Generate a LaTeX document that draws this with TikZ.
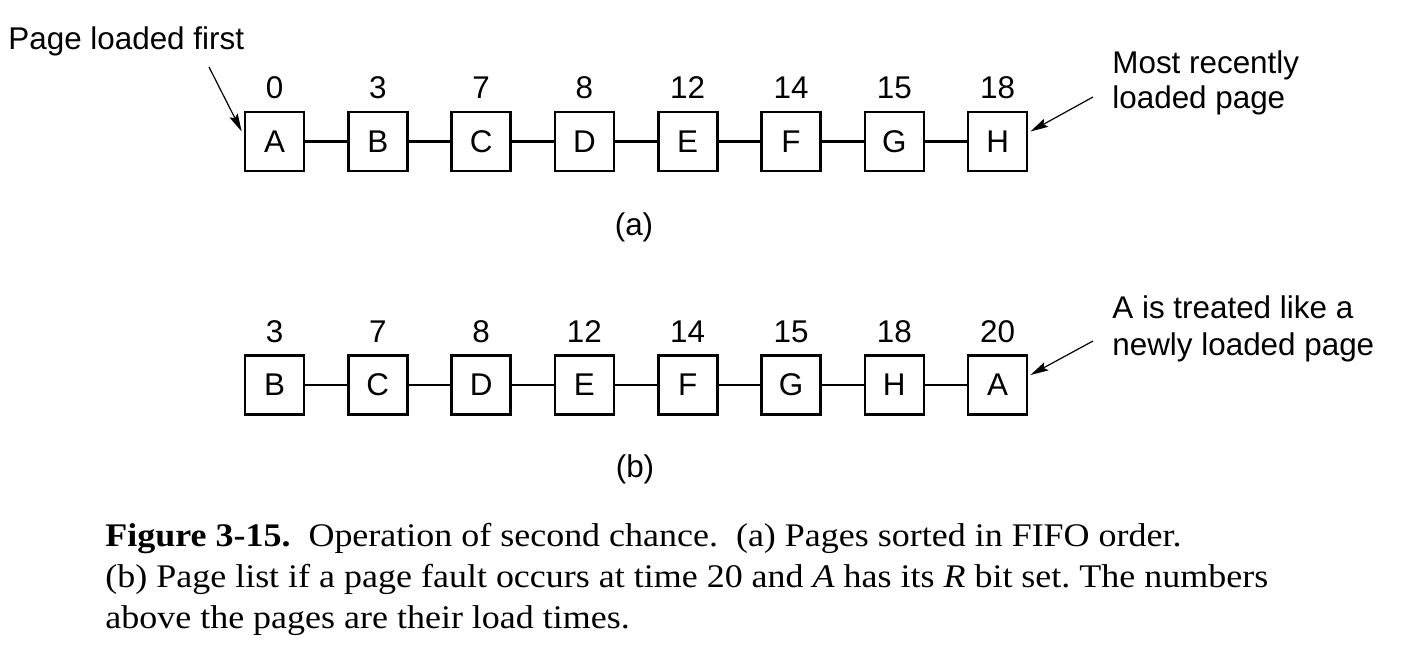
\documentclass[tikz,border=0pt]{standalone}
\usepackage{fontspec}
\setmainfont{Liberation Serif}
\newfontfamily\capfont[FakeStretch=1.09]{Liberation Serif}
\newfontfamily\hv{Liberation Sans}
\usetikzlibrary{arrows.meta,calc}
\tikzset{
  page/.style={draw, line width=1.3pt, minimum size=29.5pt, inner sep=0pt, font=\hv\fontsize{15.7}{18}\selectfont},
  link/.style={line width=1.3pt},
  num/.style={anchor=base, inner sep=0pt, font=\hv\fontsize{15.7}{18}\selectfont},
  lbl/.style={anchor=base west, inner sep=0pt, font=\hv\fontsize{15.7}{18}\selectfont},
  captext/.style={anchor=base west, inner sep=0pt, font=\capfont\fontsize{16.5}{20}\selectfont\frenchspacing},
  ptr/.style={line width=0.6pt, -{Stealth[length=9pt,width=4.5pt,inset=1.5pt]}},
}
\begin{document}
\begin{tikzpicture}[x=0.5pt, y=-0.5pt]
\useasboundingbox (0,0) rectangle (1414,648);
% row (a)
\foreach \i/\l/\n in {1/A/0,2/B/3,3/C/7,4/D/8,5/E/12,6/F/14,7/G/15,8/H/18}{
  \node[page] (a\i) at ({274.5+103.3*(\i-1)},141.5) {\l};
  \node[num] (na\i) at ({274.5+103.3*(\i-1)},98) {\n};
}
\foreach \i [evaluate=\i as \j using int(\i+1)] in {1,...,7}{
  \draw[link] (a\i) -- (a\j);
}
% row (b)
\foreach \i/\l/\n in {1/B/3,2/C/7,3/D/8,4/E/12,5/F/14,6/G/15,7/H/18,8/A/20}{
  \node[page] (b\i) at ({274.5+103.3*(\i-1)},385) {\l};
  \node[num] (nb\i) at ({274.5+103.3*(\i-1)},342) {\n};
}
\foreach \i [evaluate=\i as \j using int(\i+1)] in {1,...,7}{
  \draw[link] (b\i) -- (b\j);
}
% labels
\node[lbl] (first) at (8,49) {Page loaded first};
\node[lbl] (mr1) at (1112,73) {Most recently};
\node[lbl] (mr2) at (1112,108) {loaded page};
\node[lbl] (nl1) at (1112,318) {A is treated like a};
\node[lbl] (nl2) at (1112,355) {newly loaded page};
\node[num, anchor=center] (la) at (634,227) {(a)};
\node[num, anchor=center] (lb) at (635,469) {(b)};
% pointers
\coordinate (pfirst) at (209,67);
\coordinate (precent) at (1093,97);
\coordinate (pnew) at (1093,341);
\draw[ptr] (pfirst) -- ([xshift=-1pt,yshift=5pt]a1.west);
\draw[ptr] (precent) -- ([xshift=1pt,yshift=5pt]a8.east);
\draw[ptr] (pnew) -- ([xshift=1pt,yshift=5pt]b8.east);
% caption
\node[captext] (c1) at (105,546) {\textbf{Figure 3-15.}~ Operation of second chance.~ (a) Pages sorted in FIFO order.};
\node[captext] (c2) at (105,587) {(b) Page list if a page fault occurs at time 20 and \textit{A} has its \textit{R} bit set. The numbers};
\node[captext] (c3) at (105,628) {above the pages are their load times.};
\end{tikzpicture}
\end{document}
